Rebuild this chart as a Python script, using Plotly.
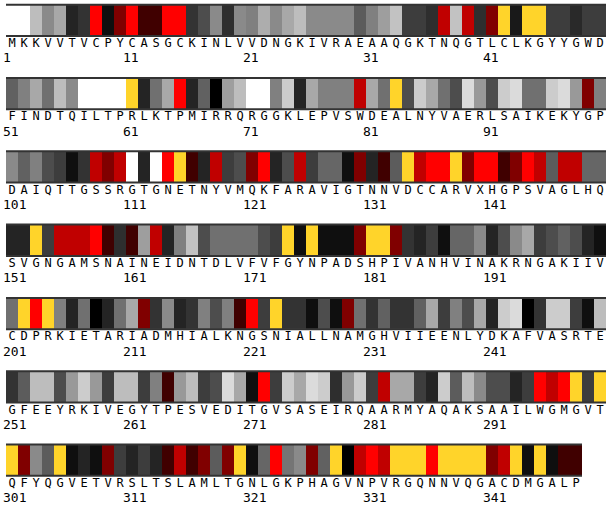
import plotly.graph_objects as go

sequence = ("MKKVVTVCPYCASGCKINLVVDNGKIVRAEAAQGKTNQGTLCLKGYYGWD"
            "FINDTQILTPRLKTPMIRRQRGGKLEPVSWDEALNYVAERLSAIKEKYGP"
            "DAIQTTGSSRGTGNETNYVMQKFARAVIGTNNVDCCARVXHGPSVAGLHQ"
            "SVGNGAMSNAINEIDNTDLVFVFGYNPADSHPIVANHVINAKRNGAKIIV"
            "CDPRKIETARIADMHIALKNGSNIALLNAMGHVIIEENLYDKAFVASRTE"
            "GFEEYRKIVEGYTPESVEDITGVSASEIRQAARMYAQAKSAAILWGMGVT"
            "QFYQGVETVRSLTSLAMLTGNLGKPHAGVNPVRGQNNVQGACDMGALP")

# per-residue score (0 = white ... 50 = black ... 60-90 dark red -> red, 100 = yellow)
scores_1_50 = [0, 0, 13, 23, 17, 43, 40, 90, 47, 70, 90, 60, 60, 90, 90, 40, 35, 23, 41, 23,
               25, 16, 23, 17, 13, 23, 23, 23, 23, 32, 25, 19, 12, 38, 38, 41, 80, 12, 80, 41,
               70, 100, 45, 100, 100, 38, 38, 42, 38, 38]
scores_51_100 = [31, 25, 17, 28, 13, 23, 0, 0, 0, 0, 100, 43, 28, 17, 90, 43, 31, 50, 19, 13,
                 0, 0, 25, 10, 43, 17, 25, 25, 25, 80, 17, 28, 100, 35, 10, 17, 28, 35, 7, 20,
                 35, 10, 7, 28, 28, 10, 7, 20, 70, 25]
scores_101_150 = [23, 31, 25, 35, 38, 47, 40, 80, 70, 80, 0, 43, 0, 90, 100, 60, 43, 80, 38, 35,
                  70, 90, 43, 35, 80, 38, 30, 30, 47, 70, 43, 60, 32, 100, 80, 90, 90, 100, 70, 90,
                  90, 60, 70, 90, 80, 32, 80, 80, 30, 30]
scores_151_200 = [43, 43, 100, 38, 80, 80, 80, 90, 60, 41, 60, 19, 80, 43, 25, 12, 35, 28, 28, 28,
                  28, 35, 38, 100, 47, 100, 47, 47, 47, 70, 100, 100, 70, 40, 43, 38, 47, 30, 30, 23,
                  43, 35, 23, 17, 38, 35, 31, 35, 43, 47]
scores_201_250 = [28, 100, 90, 100, 25, 43, 28, 50, 43, 28, 17, 70, 40, 23, 43, 40, 25, 35, 25, 60,
                  90, 38, 100, 40, 40, 47, 35, 47, 70, 28, 40, 31, 40, 40, 31, 17, 38, 25, 35, 17,
                  43, 10, 7, 50, 40, 10, 10, 38, 47, 13]
scores_251_300 = [40, 32, 13, 13, 35, 20, 10, 20, 38, 13, 13, 38, 25, 60, 20, 13, 38, 35, 7, 17,
                  47, 90, 38, 10, 17, 7, 10, 41, 20, 10, 38, 80, 17, 17, 38, 43, 10, 32, 13, 23,
                  35, 35, 43, 38, 90, 80, 90, 100, 38, 100]
scores_301_348 = [100, 70, 23, 32, 100, 47, 43, 47, 70, 38, 43, 38, 43, 60, 80, 60, 70, 32, 70, 100,
                  47, 30, 90, 27, 23, 70, 31, 100, 50, 80, 90, 80, 100, 100, 100, 90, 100, 100, 100, 100,
                  70, 80, 100, 47, 100, 47, 60, 60]

scores = (scores_1_50 + scores_51_100 + scores_101_150 + scores_151_200 +
          scores_201_250 + scores_251_300 + scores_301_348)

residues_per_row = 50
number_labels = list(range(1, len(sequence) + 1, 10))

colorscale = [[0.0, "#ffffff"], [0.5, "#000000"], [0.6, "#400000"], [0.7, "#800000"],
              [0.8, "#c00000"], [0.9, "#ff0000"], [1.0, "#ffd42a"]]

W, H = 608, 508
row_top0 = 4.7
row_step = 73.3
bar_h = 31.3
font_family = "DejaVu Sans Mono"

fig = go.Figure()
n = len(sequence)
n_rows = (n + residues_per_row - 1) // residues_per_row
for r in range(n_rows):
    start = r * residues_per_row
    seg = scores[start:start + residues_per_row]
    letters = sequence[start:start + residues_per_row]
    top = row_top0 + r * row_step
    fig.add_trace(go.Heatmap(
        z=[seg], x0=0.5, dx=1, y0=top + bar_h / 2, dy=bar_h,
        zmin=0, zmax=100, colorscale=colorscale, showscale=False, hoverinfo="skip"))
    for yy in (top, top + bar_h):
        fig.add_trace(go.Scatter(x=[0, len(seg)], y=[yy, yy], mode="lines",
                                 line=dict(color="#333333", width=2), hoverinfo="skip"))
    fig.add_trace(go.Scatter(
        x=[i + 0.5 for i in range(len(letters))], y=[top + 39.3] * len(letters),
        mode="text", text=list(letters),
        textfont=dict(family=font_family, size=12, color="#000000"), hoverinfo="skip"))
    nums = [k for k in number_labels if start < k <= start + residues_per_row]
    fig.add_trace(go.Scatter(
        x=[k - 1 - start - 0.25 for k in nums], y=[top + 54.5] * len(nums),
        mode="text", text=[str(k) for k in nums], textposition="middle right",
        textfont=dict(family=font_family, size=13, color="#000000"), hoverinfo="skip"))

fig.update_layout(
    width=W, height=H, margin=dict(l=0, r=0, t=0, b=0),
    paper_bgcolor="white", plot_bgcolor="white", showlegend=False,
    xaxis=dict(range=[-0.5, (W - 6) / 12], visible=False, fixedrange=True),
    yaxis=dict(range=[H, 0], visible=False, fixedrange=True),
)
fig.write_html("out.html", config={"displayModeBar": False},
               post_script="document.body.style.margin='0';document.body.style.overflow='hidden';")
